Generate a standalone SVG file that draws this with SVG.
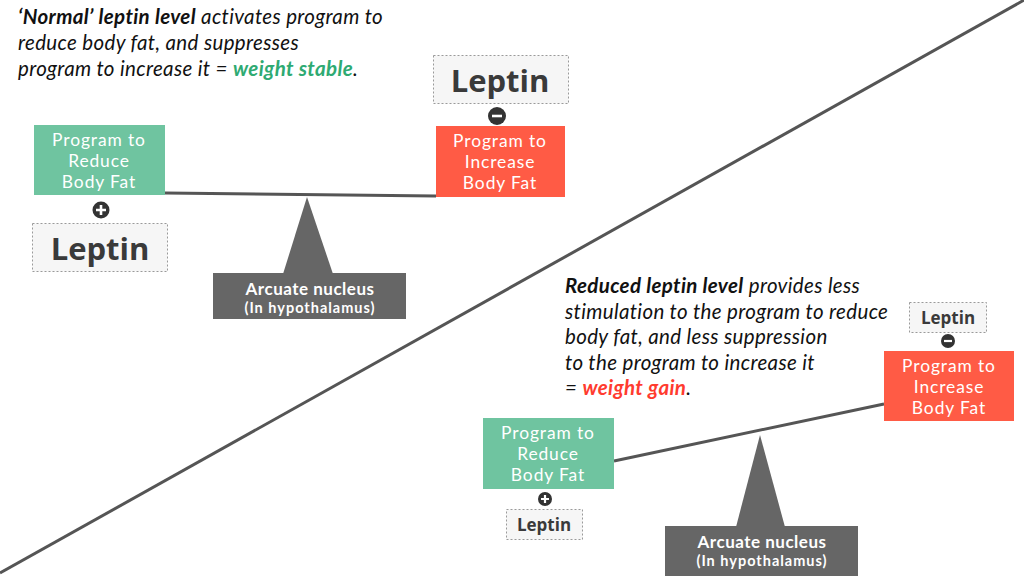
<svg xmlns="http://www.w3.org/2000/svg" width="1024" height="576" viewBox="0 0 1024 576">
<style>
.green{fill:#6fc4a0;}
.red{fill:#ff5b45;}
.lbl{font-family:Lato,"Open Sans",sans-serif;fill:#fff;text-anchor:middle;font-size:17.4px;letter-spacing:0.9px;}
.lep{fill:#f6f6f6;stroke:#9a9a9a;stroke-width:1;stroke-dasharray:2 2;}
.leptxt{font-family:"Open Sans","Liberation Sans",sans-serif;font-weight:bold;fill:#3a3a3a;text-anchor:middle;}
.beam{stroke:#555;stroke-width:3;fill:none;}
.nuc{fill:#666;}
.nuctxt{font-family:Lato,"Open Sans",sans-serif;font-weight:bold;fill:#fff;text-anchor:middle;}
.n1{font-size:17px;letter-spacing:0.5px;}
.n2{font-size:14.5px;letter-spacing:1px;}
.icon{fill:#333;}
.desc{font-family:Lato,"Open Sans",sans-serif;font-style:italic;fill:#111;font-size:20.5px;letter-spacing:0.35px;}
</style>
<rect width="1024" height="576" fill="#fff"/>
<g id="connectors">
<line class="beam" x1="0" y1="573" x2="1026" y2="-1"/>
<line class="beam" x1="165" y1="193" x2="436" y2="196"/>
<line class="beam" x1="614" y1="461" x2="884" y2="404"/>
</g>
<g id="text-top">
<text class="desc" x="18" y="24"><tspan font-weight="bold">‘Normal’ leptin level</tspan> activates program to</text>
<text class="desc" x="18" y="50">reduce body fat, and suppresses</text>
<text class="desc" x="18" y="76">program to increase it = <tspan font-weight="bold" fill="#2eaa72">weight stable</tspan>.</text>
</g>
<g id="nucleus-top">
<polygon class="nuc" points="307,197 283,274 333,274"/>
<rect class="nuc" x="213" y="273" width="193" height="46"/>
<text class="nuctxt n1" x="310" y="295">Arcuate nucleus</text>
<text class="nuctxt n2" x="310" y="313">(In hypothalamus)</text>
</g>
<g id="reduce-top">
<rect class="green" x="34" y="125" width="131" height="70"/>
<text class="lbl" x="99" y="146">Program to</text>
<text class="lbl" x="99" y="167">Reduce</text>
<text class="lbl" x="99" y="188">Body Fat</text>
</g>
<g id="plus-top">
<circle class="icon" cx="101" cy="210" r="8.5"/>
<path d="M96,210H106M101,205V215" stroke="#fff" stroke-width="2.6"/>
</g>
<g id="leptin-top-left">
<rect class="lep" x="32.5" y="223.5" width="135" height="48"/>
<text class="leptxt" x="100" y="260" font-size="31">Leptin</text>
</g>
<g id="leptin-top-right">
<rect class="lep" x="433.5" y="55.5" width="135" height="48"/>
<text class="leptxt" x="500" y="92" font-size="31">Leptin</text>
</g>
<g id="minus-top">
<circle class="icon" cx="497" cy="116" r="9"/>
<path d="M492,116H502" stroke="#fff" stroke-width="2.6"/>
</g>
<g id="increase-top">
<rect class="red" x="436" y="126" width="129" height="71"/>
<text class="lbl" x="500" y="147">Program to</text>
<text class="lbl" x="500" y="168">Increase</text>
<text class="lbl" x="500" y="189">Body Fat</text>
</g>
<g id="text-bottom">
<text class="desc" x="565" y="293"><tspan font-weight="bold">Reduced leptin level</tspan> provides less</text>
<text class="desc" x="565" y="318.5">stimulation to the program to reduce</text>
<text class="desc" x="565" y="344">body fat, and less suppression</text>
<text class="desc" x="565" y="369.5">to the program to increase it</text>
<text class="desc" x="565" y="395">= <tspan font-weight="bold" fill="#ff3b2f">weight gain</tspan>.</text>
</g>
<g id="leptin-bottom-right">
<rect class="lep" x="909.5" y="302.5" width="77" height="30"/>
<text class="leptxt" x="948" y="324" font-size="17">Leptin</text>
</g>
<g id="minus-bottom">
<circle class="icon" cx="948" cy="341" r="7"/>
<path d="M944,341H952" stroke="#fff" stroke-width="2.2"/>
</g>
<g id="increase-bottom">
<rect class="red" x="884" y="351" width="130" height="70"/>
<text class="lbl" x="949" y="372">Program to</text>
<text class="lbl" x="949" y="393">Increase</text>
<text class="lbl" x="949" y="414">Body Fat</text>
</g>
<g id="nucleus-bottom">
<polygon class="nuc" points="760,435 736,527 785,527"/>
<rect class="nuc" x="665" y="526" width="193" height="50"/>
<text class="nuctxt n1" x="762" y="548">Arcuate nucleus</text>
<text class="nuctxt n2" x="762" y="566">(In hypothalamus)</text>
</g>
<g id="reduce-bottom">
<rect class="green" x="483" y="418" width="131" height="71"/>
<text class="lbl" x="548" y="439">Program to</text>
<text class="lbl" x="548" y="460">Reduce</text>
<text class="lbl" x="548" y="481">Body Fat</text>
</g>
<g id="plus-bottom">
<circle class="icon" cx="545" cy="499" r="7"/>
<path d="M541,499H549M545,495V503" stroke="#fff" stroke-width="2.2"/>
</g>
<g id="leptin-bottom-left">
<rect class="lep" x="506.5" y="509.5" width="76" height="30"/>
<text class="leptxt" x="544" y="531" font-size="17">Leptin</text>
</g>
</svg>
